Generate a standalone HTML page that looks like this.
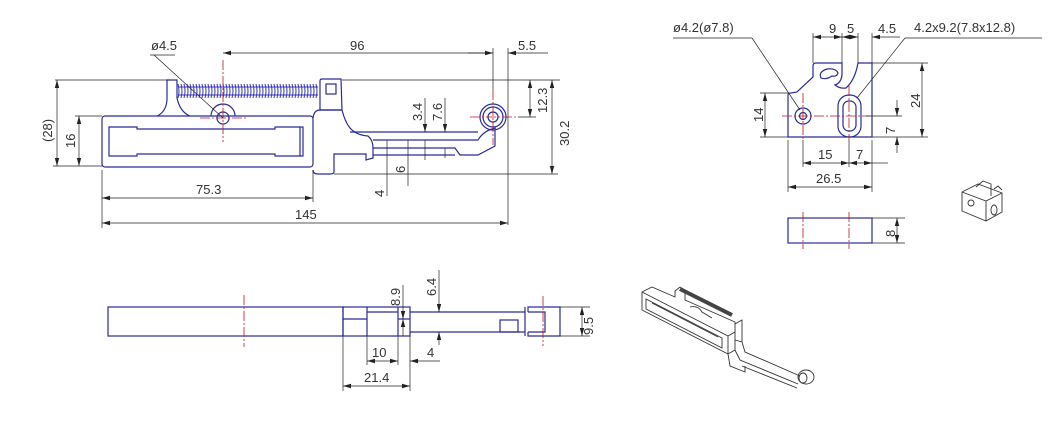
<!DOCTYPE html>
<html><head><meta charset="utf-8"><style>
html,body{margin:0;padding:0;background:#fff;width:1050px;height:429px;overflow:hidden}
svg{display:block}
text{font-family:"Liberation Sans",sans-serif;font-size:13px;fill:#333}
.o{fill:none;stroke:#2a2a9a;stroke-width:1.2}
.d{fill:none;stroke:#222;stroke-width:0.7}
.c{fill:none;stroke:#c01818;stroke-width:0.8;stroke-dasharray:10 2 2 2}
.k{fill:none;stroke:#333;stroke-width:0.9}
</style></head><body>
<svg width="1050" height="429" viewBox="0 0 1050 429" xmlns="http://www.w3.org/2000/svg">
<defs><marker id="a" markerWidth="8" markerHeight="6" refX="8" refY="3" orient="auto-start-reverse" markerUnits="userSpaceOnUse"><path d="M0,0.8 L8,3 L0,5.2z" fill="#222"/></marker></defs>

<!-- ===== MAIN VIEW ===== -->
<rect class="o" x="102" y="116" width="211" height="51" rx="3"/>
<path class="o" d="M109,127 H137 V129 H275 V127 H303 V156 H275 V154 H137 V156 H109 Z"/>
<line class="o" x1="300" y1="127" x2="300" y2="156"/>
<path class="o" d="M157,116 Q166,112 167,100 V80 H177 V98 Q180,112 190,116"/>
<g stroke="#3535b5" stroke-width="1" fill="none">
<path d="M178,84 q2,7 0,14 M181,84 q2,7 0,14 M184,84 q2,7 0,14 M187,84 q2,7 0,14 M190,84 q2,7 0,14 M193,84 q2,7 0,14 M196,84 q2,7 0,14 M199,84 q2,7 0,14 M202,84 q2,7 0,14 M205,84 q2,7 0,14 M208,84 q2,7 0,14 M211,84 q2,7 0,14 M214,84 q2,7 0,14 M217,84 q2,7 0,14 M220,84 q2,7 0,14 M223,84 q2,7 0,14 M226,84 q2,7 0,14 M229,84 q2,7 0,14 M232,84 q2,7 0,14 M235,84 q2,7 0,14 M238,84 q2,7 0,14 M241,84 q2,7 0,14 M244,84 q2,7 0,14 M247,84 q2,7 0,14 M250,84 q2,7 0,14 M253,84 q2,7 0,14 M256,84 q2,7 0,14 M259,84 q2,7 0,14 M262,84 q2,7 0,14 M265,84 q2,7 0,14 M268,84 q2,7 0,14 M271,84 q2,7 0,14 M274,84 q2,7 0,14 M277,84 q2,7 0,14 M280,84 q2,7 0,14 M283,84 q2,7 0,14 M286,84 q2,7 0,14 M289,84 q2,7 0,14 M292,84 q2,7 0,14 M295,84 q2,7 0,14 M298,84 q2,7 0,14 M301,84 q2,7 0,14 M304,84 q2,7 0,14 M307,84 q2,7 0,14 M310,84 q2,7 0,14 M313,84 q2,7 0,14 M316,84 q2,7 0,14"/>
<line x1="178" y1="87" x2="318" y2="87"/><line x1="178" y1="95" x2="318" y2="95"/>
</g>
<path class="o" d="M211,116 A12,12 0 1 1 235,116"/>
<circle class="o" cx="223" cy="118" r="6"/>
<line class="c" x1="200" y1="118" x2="248" y2="118"/>
<line class="c" x1="223" y1="60" x2="223" y2="142"/>
<path class="o" d="M320,110 V81 Q320,79 322,79 H341 L342,110 Z"/>
<rect class="o" x="326" y="84" width="10" height="10"/>
<path class="o" d="M313,118 Q314,110 320,110 H342 Q345,122 350,128 Q356,135 368,136 Q373,140 373,148 V158 L366,160 L366,158 V154 H334 V172 Q334,174 330,174 H318 Q313,174 313,170"/>
<path class="o" d="M373,140 H478 Q484,130 496,128"/>
<path class="o" d="M373,148 H455 L460,155 H478 L495,146 V130"/>
<path class="o" d="M373,155 H455"/>
<path class="o" d="M350,132 H478"/>
<circle class="o" cx="493" cy="117" r="13"/>
<circle class="o" cx="493" cy="117" r="10"/>
<circle class="o" cx="493" cy="117" r="5"/>
<line class="c" x1="470" y1="117" x2="518" y2="117"/>
<line class="c" x1="493" y1="90" x2="493" y2="145"/>
<line class="d" x1="223" y1="53" x2="493" y2="53" marker-start="url(#a)" marker-end="url(#a)"/>
<text x="350" y="50">96</text>
<line class="d" x1="493" y1="48" x2="493" y2="90"/>
<line class="d" x1="508" y1="48" x2="508" y2="225"/>
<line class="d" x1="468" y1="53" x2="493" y2="53"/>
<line class="d" x1="508" y1="53" x2="548" y2="53" marker-start="url(#a)"/>
<text x="518" y="50">5.5</text>
<line class="d" x1="154" y1="55" x2="223" y2="118"/><line class="d" x1="150" y1="55" x2="175" y2="55"/>
<text x="151" y="50">ø4.5</text>
<line class="d" x1="55" y1="80" x2="170" y2="80"/>
<line class="d" x1="342" y1="80" x2="560" y2="80"/>
<line class="d" x1="57" y1="80" x2="57" y2="166" marker-start="url(#a)" marker-end="url(#a)"/>
<line class="d" x1="53" y1="166" x2="102" y2="166"/>
<text transform="translate(52,142) rotate(-90)">(28)</text>
<line class="d" x1="79" y1="116" x2="79" y2="166" marker-start="url(#a)" marker-end="url(#a)"/>
<line class="d" x1="75" y1="116" x2="102" y2="116"/>
<text transform="translate(75,148) rotate(-90)">16</text>
<line class="d" x1="102" y1="170" x2="102" y2="228"/>
<line class="d" x1="313" y1="170" x2="313" y2="202"/>
<line class="d" x1="102" y1="198" x2="313" y2="198" marker-start="url(#a)" marker-end="url(#a)"/>
<text x="196" y="194">75.3</text>
<line class="d" x1="102" y1="223" x2="508" y2="223" marker-start="url(#a)" marker-end="url(#a)"/>
<text x="295" y="219">145</text>
<line class="d" x1="552" y1="80" x2="552" y2="174" marker-start="url(#a)" marker-end="url(#a)"/>
<line class="d" x1="334" y1="174" x2="558" y2="174"/>
<text transform="translate(569,146) rotate(-90)">30.2</text>
<line class="d" x1="530" y1="80" x2="530" y2="117" marker-start="url(#a)" marker-end="url(#a)"/>
<line class="d" x1="518" y1="117" x2="536" y2="117"/>
<text transform="translate(547,113) rotate(-90)">12.3</text>
<line class="d" x1="425" y1="98" x2="425" y2="132" marker-end="url(#a)"/>
<line class="d" x1="425" y1="140" x2="425" y2="160"/>
<text transform="translate(422,121) rotate(-90)">3.4</text>
<line class="d" x1="445" y1="98" x2="445" y2="132" marker-end="url(#a)"/>
<line class="d" x1="445" y1="148" x2="445" y2="158"/>
<text transform="translate(442,121) rotate(-90)">7.6</text>
<line class="d" x1="387" y1="140" x2="387" y2="196"/>
<text transform="translate(384,197) rotate(-90)">4</text>
<line class="d" x1="408" y1="140" x2="408" y2="186"/>
<text transform="translate(405,173) rotate(-90)">6</text>

<!-- ===== RIGHT VIEW ===== -->
<path class="o" d="M788,137 V95 Q788,93 791,93 L797,92 L813,77 V66 Q813,63 816,63 H842 V75 Q841,83 835,85 Q840,89 846,88 Q855,80 858,63 H872 V137 Z"/>
<path class="o" d="M827,69 Q818,72 821,78 Q826,80 832,76 Q837,77 838,73 Q836,68 827,69 Z"/>
<circle class="o" cx="803" cy="116" r="8"/><circle class="o" cx="803" cy="116" r="3.5"/>
<rect class="o" x="838" y="95" width="23" height="42" rx="11"/>
<rect class="o" x="843" y="101" width="13" height="30" rx="6"/>
<line class="c" x1="782" y1="116" x2="870" y2="116"/>
<line class="c" x1="803" y1="93" x2="803" y2="140"/>
<line class="c" x1="849" y1="86" x2="849" y2="140"/>
<line class="d" x1="813" y1="33" x2="813" y2="63"/><line class="d" x1="842" y1="33" x2="842" y2="63"/>
<line class="d" x1="858" y1="33" x2="858" y2="63"/><line class="d" x1="872" y1="33" x2="872" y2="63"/>
<line class="d" x1="813" y1="37" x2="842" y2="37" marker-start="url(#a)" marker-end="url(#a)"/>
<line class="d" x1="842" y1="37" x2="858" y2="37" marker-start="url(#a)" marker-end="url(#a)"/>
<line class="d" x1="872" y1="37" x2="900" y2="37" marker-start="url(#a)"/>
<text x="829" y="33">9</text><text x="847" y="33">5</text><text x="878" y="33">4.5</text>
<line class="d" x1="673" y1="38" x2="752" y2="38"/><line class="d" x1="752" y1="38" x2="800" y2="110"/>
<text x="673" y="32">ø4.2(ø7.8)</text>
<line class="d" x1="905" y1="38" x2="1042" y2="38"/><line class="d" x1="905" y1="38" x2="857" y2="98"/>
<text x="914" y="32">4.2x9.2(7.8x12.8)</text>
<line class="d" x1="872" y1="63" x2="928" y2="63"/><line class="d" x1="872" y1="137" x2="928" y2="137"/>
<line class="d" x1="922" y1="63" x2="922" y2="137" marker-start="url(#a)" marker-end="url(#a)"/>
<text transform="translate(920,108) rotate(-90)">24</text>
<line class="d" x1="760" y1="93" x2="788" y2="93"/><line class="d" x1="760" y1="137" x2="788" y2="137"/>
<line class="d" x1="765" y1="93" x2="765" y2="137" marker-start="url(#a)" marker-end="url(#a)"/>
<text transform="translate(763,122) rotate(-90)">14</text>
<line class="d" x1="866" y1="116" x2="902" y2="116"/>
<line class="d" x1="897" y1="100" x2="897" y2="116" marker-end="url(#a)"/>
<line class="d" x1="897" y1="153" x2="897" y2="137" marker-end="url(#a)"/>
<text transform="translate(895,134) rotate(-90)">7</text>
<line class="d" x1="788" y1="140" x2="788" y2="192"/><line class="d" x1="803" y1="140" x2="803" y2="167"/>
<line class="d" x1="849" y1="140" x2="849" y2="167"/><line class="d" x1="872" y1="140" x2="872" y2="192"/>
<line class="d" x1="803" y1="163" x2="849" y2="163" marker-start="url(#a)" marker-end="url(#a)"/>
<line class="d" x1="849" y1="163" x2="872" y2="163" marker-start="url(#a)" marker-end="url(#a)"/>
<line class="d" x1="872" y1="163" x2="888" y2="163"/>
<text x="818" y="159">15</text><text x="856" y="159">7</text>
<line class="d" x1="788" y1="187" x2="872" y2="187" marker-start="url(#a)" marker-end="url(#a)"/>
<text x="816" y="183">26.5</text>
<rect class="o" x="788" y="218" width="84" height="25"/>
<line class="c" x1="803" y1="212" x2="803" y2="249"/><line class="c" x1="849" y1="212" x2="849" y2="249"/>
<line class="d" x1="872" y1="218" x2="905" y2="218"/><line class="d" x1="872" y1="243" x2="905" y2="243"/>
<line class="d" x1="897" y1="218" x2="897" y2="243" marker-start="url(#a)" marker-end="url(#a)"/>
<text transform="translate(895,237) rotate(-90)">8</text>
<g class="k">
<path d="M962,192 L978,184 L1002,193 L1002,212 L986,221 L962,211 Z"/>
<path d="M962,192 L986,201 L1002,193 M986,201 V221"/>
<path d="M976,187 L983,181 L991,184 L991,196 M994,189 L998,186 L1002,190"/>
<circle cx="971" cy="203" r="3"/><ellipse cx="994" cy="210" rx="3" ry="5"/>
</g>

<!-- ===== BOTTOM VIEW ===== -->
<rect class="o" x="108" y="307" width="235" height="29"/>
<rect class="o" x="343" y="307" width="67" height="29"/>
<line class="o" x1="367" y1="307" x2="367" y2="336"/><line class="o" x1="398" y1="307" x2="398" y2="336"/>
<line class="o" x1="343" y1="319" x2="367" y2="319"/><line class="o" x1="398" y1="319" x2="410" y2="319"/>
<line class="o" x1="367" y1="312" x2="398" y2="312"/>
<path class="o" d="M410,312 H525 M410,332 H525"/>
<rect class="o" x="500" y="320" width="18" height="12"/>
<path class="o" d="M528,312 V307 H560 V336 H528 V332 M525,307 V336 M528,312 H545 V332 H528"/>
<line class="c" x1="244" y1="295" x2="244" y2="347"/>
<line class="c" x1="543" y1="296" x2="543" y2="346"/>
<line class="d" x1="560" y1="307" x2="590" y2="307"/><line class="d" x1="560" y1="336" x2="590" y2="336"/>
<line class="d" x1="582" y1="307" x2="582" y2="336" marker-start="url(#a)" marker-end="url(#a)"/>
<text transform="translate(593,335) rotate(-90)">9.5</text>
<line class="d" x1="403" y1="285" x2="403" y2="319" marker-end="url(#a)"/>
<line class="d" x1="403" y1="336" x2="403" y2="319" marker-end="url(#a)"/>
<text transform="translate(400,306) rotate(-90)">8.9</text>
<line class="d" x1="439" y1="270" x2="439" y2="312" marker-end="url(#a)"/>
<line class="d" x1="439" y1="345" x2="439" y2="332" marker-end="url(#a)"/>
<text transform="translate(436,296) rotate(-90)">6.4</text>
<line class="d" x1="343" y1="336" x2="343" y2="391"/><line class="d" x1="367" y1="336" x2="367" y2="365"/>
<line class="d" x1="398" y1="336" x2="398" y2="365"/><line class="d" x1="410" y1="336" x2="410" y2="391"/>
<line class="d" x1="367" y1="361" x2="398" y2="361" marker-start="url(#a)" marker-end="url(#a)"/>
<text x="372" y="357">10</text>
<line class="d" x1="410" y1="361" x2="440" y2="361" marker-start="url(#a)"/>
<text x="427" y="357">4</text>
<line class="d" x1="343" y1="386" x2="410" y2="386" marker-start="url(#a)" marker-end="url(#a)"/>
<text x="364" y="382">21.4</text>

<!-- ===== ISO VIEW ===== -->
<g class="k">
<path d="M642,292 L652,287 L675,297 L675,291 L680,287 L685,290 L685,300 L735,322 L735,350 L728,354 L642,310 Z"/>
<path d="M642,292 L728,336 L735,332 M728,336 V354"/>
<path d="M646,299 L722,338 L722,348 L646,309 Z"/>
<path d="M652,303 L718,337"/>
<path d="M680,289 L732,315" stroke-width="4" stroke="#444"/>
<path d="M690,307 Q698,305 702,312 L712,318"/>
<path d="M728,354 L730,366 L745,372 L745,366 M735,340 L742,342 L745,352 L800,376 M735,350 L740,360 L798,384"/>
<path d="M742,366 L797,388"/>
<ellipse cx="806" cy="377" rx="8" ry="7"/><ellipse cx="803" cy="378" rx="4" ry="5"/>
<path d="M735,324 L742,320 L742,342"/>
</g>
</svg>
</body></html>
